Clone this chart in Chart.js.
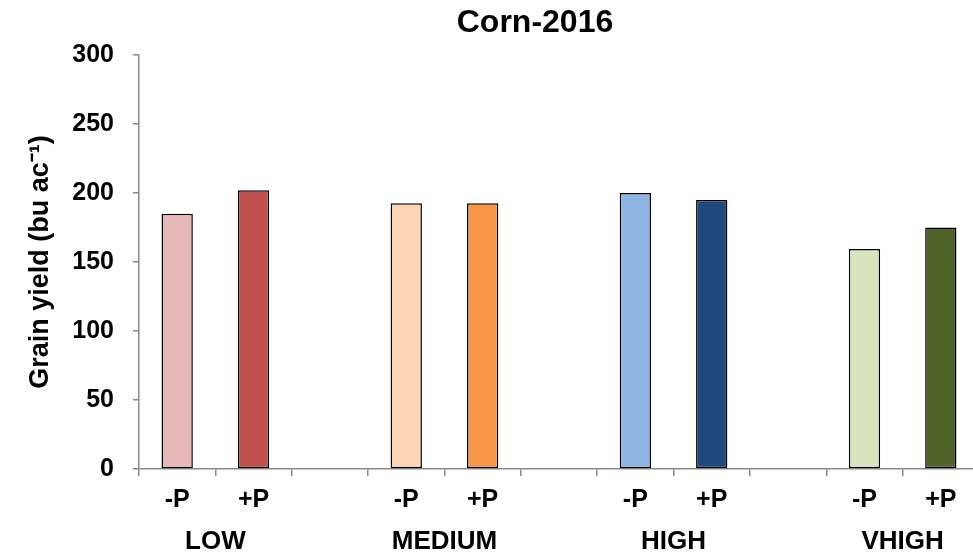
<!DOCTYPE html>
<html>
<head>
<meta charset="utf-8">
<script src="https://cdn.jsdelivr.net/npm/chart.js@4.4.0/dist/chart.umd.min.js"></script>
<style>
  html, body { margin: 0; padding: 0; background: #fff; overflow: hidden; }
  #wrap { width: 979px; height: 556px; position: relative; }
</style>
</head>
<body>
<div id="wrap"><canvas id="chart"></canvas></div>
<script>
// Data
const groups = ['LOW', 'MEDIUM', 'HIGH', 'VHIGH'];
const treatments = ['-P', '+P'];
const yieldMinusP = [185, 192.5, 200, 159.5];
const yieldPlusP = [202, 192.5, 195, 175];
const colorsMinusP = ['#E6B9B8', '#FCD5B5', '#8EB4E3', '#D7E4BD'];
const colorsPlusP = ['#C0504D', '#F79646', '#1F497D', '#4F6228'];
const yTicks = [0, 50, 100, 150, 200, 250, 300];

const FONT = "'Liberation Sans', Arial, sans-serif";
const AXIS_GREY = '#898989';

// Build the category list: -P, +P, gap, -P, +P, gap, ...
const labels = [];
const values = [];
const fills = [];
groups.forEach((g, i) => {
    labels.push(treatments[0], treatments[1]);
    values.push(yieldMinusP[i], yieldPlusP[i]);
    fills.push(colorsMinusP[i], colorsPlusP[i]);
    if (i < groups.length - 1) {
        labels.push('');
        values.push(null);
        fills.push('rgba(0,0,0,0)');
    }
});

// Title and group names under the -P/+P pairs
const extraText = {
    id: 'extraText',
    afterDraw(chart) {
        const ctx = chart.ctx;
        const x = chart.scales.x;
        ctx.save();
        ctx.fillStyle = '#000';
        ctx.textAlign = 'center';
        ctx.textBaseline = 'middle';
        ctx.font = 'bold 32px ' + FONT;
        ctx.fillText('Corn-2016', 535, 23);
        ctx.font = 'bold 26px ' + FONT;
        groups.forEach((g, i) => {
            const cx = (x.getPixelForValue(3 * i) + x.getPixelForValue(3 * i + 1)) / 2;
            ctx.fillText(g, cx, 542);
        });
        ctx.restore();
    }
};

const ctx = document.getElementById('chart').getContext('2d');
const chart = new Chart(ctx, {
    type: 'bar',
    data: {
        labels: labels,
        datasets: [{
            data: values,
            backgroundColor: fills,
            borderColor: '#000',
            borderWidth: 1.5,
            borderSkipped: false,
            categoryPercentage: 1,
            barPercentage: 0.41
        }]
    },
    options: {
        responsive: true,
        maintainAspectRatio: false,
        animation: false,
        layout: { padding: { top: 55, left: 0, right: 0, bottom: 0 } },
        plugins: {
            legend: { display: false },
            tooltip: { enabled: false },
            title: { display: false }
        },
        scales: {
            x: {
                offset: true,
                grid: {
                    offset: true,
                    drawOnChartArea: false,
                    drawTicks: true,
                    tickLength: 7,
                    color: AXIS_GREY,
                    lineWidth: 1.5
                },
                border: { color: AXIS_GREY, width: 1.5 },
                ticks: {
                    color: '#000',
                    font: { family: FONT, size: 25, weight: 'bold' },
                    padding: 9,
                    maxRotation: 0,
                    autoSkip: false
                },
                afterFit: s => { s.height = 87; }
            },
            y: {
                min: 0,
                max: 300,
                afterBuildTicks: s => { s.ticks = yTicks.map(v => ({ value: v })); },
                grid: {
                    drawOnChartArea: false,
                    drawTicks: true,
                    tickLength: 6,
                    color: AXIS_GREY,
                    lineWidth: 1.5
                },
                border: { color: AXIS_GREY, width: 1.5 },
                ticks: {
                    color: '#000',
                    font: { family: FONT, size: 25, weight: 'bold' },
                    padding: 19
                },
                title: {
                    display: true,
                    text: 'Grain yield (bu ac\u207B\u00B9)',
                    color: '#000',
                    font: { family: FONT, size: 27, weight: 'bold' },
                    padding: { top: 24, bottom: 0 }
                },
                afterFit: s => { s.width = 139; }
            }
        }
    },
    plugins: [extraText]
});
</script>
</body>
</html>
